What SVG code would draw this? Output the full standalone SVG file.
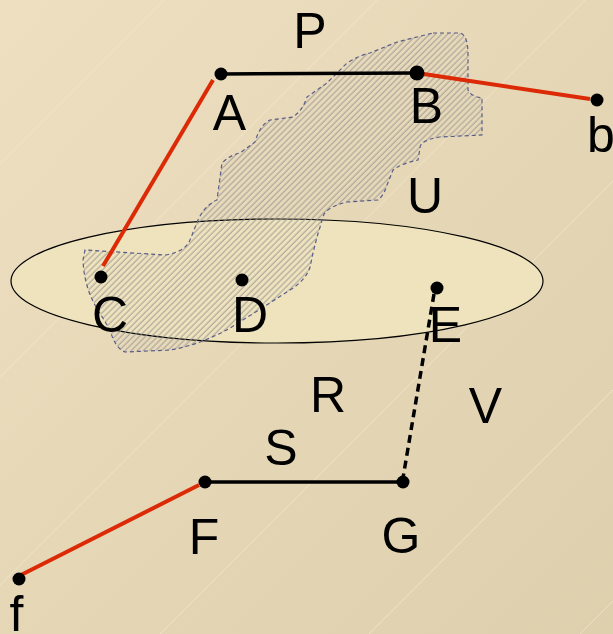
<svg xmlns="http://www.w3.org/2000/svg" width="613" height="634" viewBox="0 0 613 634">
<defs>
<linearGradient id="bg" x1="0" y1="0" x2="1" y2="1">
<stop offset="0" stop-color="#eddfc0"/>
<stop offset="1" stop-color="#ded0ad"/>
</linearGradient>
<pattern id="hatch" patternUnits="userSpaceOnUse" width="4.3" height="4.3" patternTransform="rotate(45)">
<line x1="1" y1="0" x2="1" y2="4.3" stroke="#9a9592" stroke-width="0.9"/>
</pattern>
<style>
.lbl{font-family:"Liberation Sans",Arial,sans-serif;font-size:50px;fill:#000;text-anchor:middle}
.dot{fill:#000}
.red{stroke:#dd2a06;stroke-width:4;fill:none;stroke-linecap:butt}
.blk{stroke:#000;stroke-width:3.5;fill:none}
.bgl{stroke:#f3e9d0;stroke-width:0.9;opacity:0.8}
</style>
</defs>
<rect width="613" height="634" fill="url(#bg)"/>
<g id="texture">
<line class="bgl" x1="0" y1="164" x2="164" y2="0"/>
<line class="bgl" x1="0" y1="377" x2="377" y2="0"/>
<line class="bgl" x1="0" y1="585" x2="585" y2="0"/>
<line class="bgl" x1="160" y1="634" x2="613" y2="181"/>
<line class="bgl" x1="369" y1="634" x2="613" y2="390"/>
<line class="bgl" x1="580" y1="634" x2="613" y2="601"/>
</g>
<g id="ellipse">
<ellipse cx="277" cy="281" rx="266" ry="62" fill="#eee3bd" stroke="#000" stroke-width="1.2"/>
</g>
<g id="region">
<path d="M433,33 L460,33 Q468,35 468,55 L468,90 Q470,96 482,98 L482,135 L440,137 Q420,140 420,148 L418,160 Q400,164 393,170 L387,185 Q384,195 378,200 L347,202 Q330,206 324,214 L317,237 L313,253 L310,267 Q306,280 290,290 L262,308 L230,328 Q200,345 170,350 L125,352 Q115,348 110,330 L95,305 Q84,285 83,260 L85,250 L165,255 Q185,252 190,240 L198,220 Q205,205 217,200 L222,163 Q230,155 240,153 L255,142 Q260,125 270,120 L293,117 Q303,110 307,97 L327,83 L347,63 Q360,55 370,53 L397,42 Z" fill="url(#hatch)" stroke="#5a5d88" stroke-width="1.2" stroke-dasharray="4 3"/>
</g>
<g id="connectors">
<line class="blk" x1="221" y1="74" x2="417" y2="73"/>
<line class="blk" x1="205" y1="482" x2="403" y2="482"/>
<line class="red" x1="213" y1="80" x2="103" y2="266"/>
<line class="red" x1="417" y1="73" x2="590" y2="99"/>
<line class="red" x1="199" y1="485" x2="19" y2="576"/>
<line x1="434" y1="294" x2="403" y2="478" stroke="#000" stroke-width="3.5" stroke-dasharray="8 5"/>
</g>
<g id="node-A"><circle class="dot" cx="221" cy="74" r="6.5"/><text class="lbl" x="229.5" y="130">A</text></g>
<g id="node-B"><circle class="dot" cx="417" cy="73" r="7.5"/><text class="lbl" x="426.5" y="123">B</text></g>
<g id="node-b"><circle class="dot" cx="597" cy="100" r="6.5"/><text class="lbl" x="587" y="152" style="text-anchor:start">b</text></g>
<g id="node-C"><circle class="dot" cx="101" cy="277" r="6.5"/><text class="lbl" x="110" y="332">C</text></g>
<g id="node-D"><circle class="dot" cx="242" cy="280" r="6.5"/><text class="lbl" x="250" y="332">D</text></g>
<g id="node-E"><circle class="dot" cx="437" cy="288" r="6.5"/><text class="lbl" x="445.5" y="342">E</text></g>
<g id="node-F"><circle class="dot" cx="205" cy="482" r="6.5"/><text class="lbl" x="204" y="554">F</text></g>
<g id="node-G"><circle class="dot" cx="403" cy="482" r="6.5"/><text class="lbl" x="401" y="553">G</text></g>
<g id="node-f"><circle class="dot" cx="19" cy="579" r="6.5"/><text class="lbl" x="9.5" y="631" style="text-anchor:start">f</text></g>
<g id="label-P"><text class="lbl" x="310" y="48">P</text></g>
<g id="label-U"><text class="lbl" x="425" y="213">U</text></g>
<g id="label-R"><text class="lbl" x="328" y="412">R</text></g>
<g id="label-S"><text class="lbl" x="281" y="465">S</text></g>
<g id="label-V"><text class="lbl" x="485.5" y="423">V</text></g>
</svg>
